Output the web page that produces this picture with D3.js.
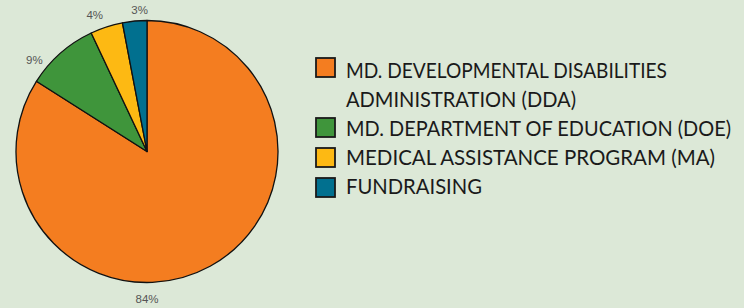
<!DOCTYPE html>
<html><head><meta charset="utf-8">
<script src="https://cdn.jsdelivr.net/npm/d3@7/dist/d3.min.js"></script>
<style>
html,body{margin:0;padding:0;background:#dce8d7;}
svg{display:block;}
</style></head>
<body>
<svg id="chart" width="744" height="308"></svg>
<script>
const categories = ["MD. DEVELOPMENTAL DISABILITIES|ADMINISTRATION (DDA)", "MD. DEPARTMENT OF EDUCATION (DOE)", "MEDICAL ASSISTANCE PROGRAM (MA)", "FUNDRAISING"];
const values = [84, 9, 4, 3];
const valueLabels = ["84%", "9%", "4%", "3%"];
const colors = ["#f47d20", "#3f953b", "#fdb913", "#01708f"];

// label placement angles (degrees clockwise from top) — layout only
const labelAngles = [180, 309, 339, 357];
const labelRadius = [147, 145, 146, 142];
// legend line widths (layout only)
const lineWidths = [[321, 230], [385], [369], [136]];

const svg = d3.select("#chart");
svg.append("rect").attr("width", 744).attr("height", 308).attr("fill", "#dce8d7");

const cx = 147, cy = 151.5, r = 131;
const pie = d3.pie().sort(null).value(d => d)(values);
const arc = d3.arc().innerRadius(0).outerRadius(r);
const g = svg.append("g").attr("transform", `translate(${cx},${cy})`);
g.selectAll("path").data(pie).join("path")
  .attr("d", arc)
  .attr("fill", (d, i) => colors[i])
  .attr("stroke", "#111")
  .attr("stroke-width", 1.3)
  .attr("stroke-linejoin", "round");

g.selectAll("text").data(pie).join("text")
  .attr("x", (d, i) => labelRadius[i] * Math.sin(labelAngles[i] * Math.PI / 180))
  .attr("y", (d, i) => -labelRadius[i] * Math.cos(labelAngles[i] * Math.PI / 180))
  .attr("text-anchor", "middle")
  .attr("dominant-baseline", "central")
  .attr("font-family", "Liberation Sans, Arial, sans-serif")
  .attr("font-size", 11.5)
  .attr("fill", "#555")
  .text((d, i) => valueLabels[i]);

// Legend
const legendRows = [0, 2, 3, 4];
const boxY = d3.scaleLinear().domain([0, 4]).range([67.5, 187.5]);
const baseY = d3.scaleLinear().domain([0, 4]).range([77.5, 194.3]);
const lg = svg.append("g");
categories.forEach((c, i) => {
  const y0 = boxY(legendRows[i]);
  lg.append("rect")
    .attr("x", 316).attr("y", y0 - 9.5).attr("width", 19).attr("height", 19)
    .attr("fill", colors[i]).attr("stroke", "#1a1a1a").attr("stroke-width", 1.8);
  c.split("|").forEach((line, j) => {
    const by = baseY(legendRows[i] + j);
    lg.append("text")
      .attr("transform", `translate(346,${by}) scale(1,1.08)`)
      .attr("font-family", "Lato, sans-serif")
      .attr("font-size", 19.5)
      .attr("fill", "#1a1a1a")
      .attr("textLength", lineWidths[i][j])
      .attr("lengthAdjust", "spacingAndGlyphs")
      .text(line);
  });
});
</script>
</body></html>
